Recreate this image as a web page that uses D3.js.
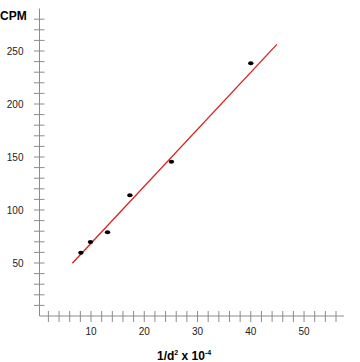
<!DOCTYPE html>
<html>
<head>
<meta charset="utf-8">
<script src="https://cdn.jsdelivr.net/npm/d3@7"></script>
<style>
  body { margin: 0; background: #fff; }
  text { font-family: "Liberation Sans", Arial, sans-serif; }
</style>
</head>
<body>
<div id="chart"></div>
<script>
// measured points (1/d^2 x 10^-4 vs CPM)
var xValues = [8.1, 9.9, 13.1, 17.3, 25.1, 40.0];
var yValues = [59.7, 69.8, 79, 113.9, 145.6, 238.4];
// fitted line end points
var lineX = [6.5, 44.9];
var lineY = [49.7, 256.3];
var xTickLabels = [10, 20, 30, 40, 50];
var yTickLabels = [50, 100, 150, 200, 250];

drawChart();

function drawChart() {
  var svg = d3.select("#chart")
              .append("svg")
              .attr("width", 360)
              .attr("height", 362);

  // scales
  var x = d3.scaleLinear().domain([0, 57.5]).range([37.75, 344]);
  var y = d3.scaleLinear().domain([0, 290]).range([316, 8.6]);

  var axisColor = "#8c8c8c";
  var axisX = 39.5;

  // x axis: minor ticks every 2, labels every 10
  var gx = svg.append("g").attr("transform", "translate(0," + y(0) + ")");
  gx.append("line")
    .attr("x1", axisX).attr("x2", 344)
    .attr("stroke", axisColor).attr("stroke-width", 1);
  gx.selectAll(".xtick")
    .data(d3.range(2, 57, 2))
    .enter()
    .append("line")
    .attr("x1", function(d){return x(d);})
    .attr("x2", function(d){return x(d);})
    .attr("y1", -5).attr("y2", 6)
    .attr("stroke", axisColor).attr("stroke-width", 1);
  gx.selectAll(".xlab")
    .data(xTickLabels)
    .enter()
    .append("text")
    .attr("x", function(d){return x(d);})
    .attr("y", 19)
    .attr("font-size", "10px")
    .attr("fill", "#222")
    .style("text-anchor", "middle")
    .text(function(d){return d;});

  // y axis: minor ticks every 10, labels every 50
  var gy = svg.append("g").attr("transform", "translate(" + axisX + ",0)");
  gy.append("line")
    .attr("y1", y(0)).attr("y2", y(290))
    .attr("stroke", axisColor).attr("stroke-width", 1);
  gy.selectAll(".ytick")
    .data(d3.range(10, 281, 10))
    .enter()
    .append("line")
    .attr("y1", function(d){return y(d);})
    .attr("y2", function(d){return y(d);})
    .attr("x1", -5.5).attr("x2", 5)
    .attr("stroke", axisColor).attr("stroke-width", 1);
  gy.selectAll(".ylab")
    .data(yTickLabels)
    .enter()
    .append("text")
    .attr("x", -16)
    .attr("y", function(d){return y(d);})
    .attr("dy", "0.35em")
    .attr("font-size", "10px")
    .attr("fill", "#222")
    .style("text-anchor", "end")
    .text(function(d){return d;});

  // axis titles
  svg.append("text")
    .attr("x", 0).attr("y", 20)
    .attr("font-size", "12px")
    .attr("font-weight", "bold")
    .text("CPM");

  var title = svg.append("text")
    .attr("x", 157).attr("y", 360)
    .attr("font-size", "12px")
    .attr("font-weight", "bold");
  title.append("tspan").text("1/d");
  title.append("tspan").attr("font-size", "7px").attr("dy", "-5").text("2");
  title.append("tspan").attr("dy", "5").text(" x 10");
  title.append("tspan").attr("font-size", "7px").attr("dy", "-5").text("-4");

  // regression line
  svg.append("line")
    .attr("x1", x(lineX[0])).attr("y1", y(lineY[0]))
    .attr("x2", x(lineX[1])).attr("y2", y(lineY[1]))
    .attr("stroke", "#d81e1e")
    .attr("stroke-width", 1.3);

  // data points
  svg.selectAll(".pt")
    .data(xValues)
    .enter()
    .append("ellipse")
    .attr("cx", function(d){return x(d);})
    .attr("cy", function(d, i){return y(yValues[i]);})
    .attr("rx", 2.7)
    .attr("ry", 2)
    .style("fill", "#000");
}
</script>
</body>
</html>
